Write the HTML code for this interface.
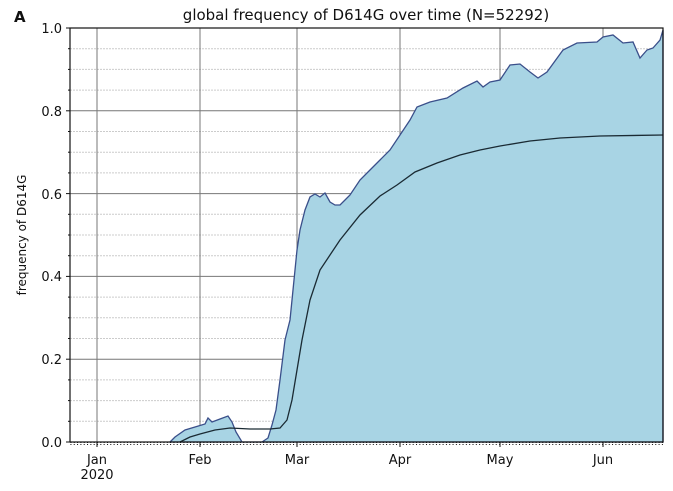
<!DOCTYPE html>
<html><head><style>
body{margin:0;background:#fff;width:673px;height:486px;overflow:hidden}
text{font-family:"DejaVu Sans","Liberation Sans",sans-serif;fill:#111}
</style></head><body>
<svg width="673" height="486" viewBox="0 0 673 486" xmlns="http://www.w3.org/2000/svg">
<defs><pattern id="mt" x="97" y="0" width="3.323" height="4" patternUnits="userSpaceOnUse"><rect x="0" y="0" width="1" height="3" fill="#111"/></pattern></defs>
<g stroke="#ccc" stroke-width="1" stroke-dasharray="2,1">
<line x1="70" x2="663" y1="48.7" y2="48.7"/><line x1="70" x2="663" y1="69.4" y2="69.4"/><line x1="70" x2="663" y1="90.1" y2="90.1"/>
<line x1="70" x2="663" y1="131.5" y2="131.5"/><line x1="70" x2="663" y1="152.2" y2="152.2"/><line x1="70" x2="663" y1="172.9" y2="172.9"/>
<line x1="70" x2="663" y1="214.3" y2="214.3"/><line x1="70" x2="663" y1="235" y2="235"/><line x1="70" x2="663" y1="255.7" y2="255.7"/>
<line x1="70" x2="663" y1="297.1" y2="297.1"/><line x1="70" x2="663" y1="317.8" y2="317.8"/><line x1="70" x2="663" y1="338.5" y2="338.5"/>
<line x1="70" x2="663" y1="379.9" y2="379.9"/><line x1="70" x2="663" y1="400.6" y2="400.6"/><line x1="70" x2="663" y1="421.3" y2="421.3"/>
</g>
<g stroke="#777" stroke-width="1">
<line x1="70" x2="663" y1="110.8" y2="110.8"/><line x1="70" x2="663" y1="193.6" y2="193.6"/><line x1="70" x2="663" y1="276.4" y2="276.4"/><line x1="70" x2="663" y1="359.2" y2="359.2"/>
<line x1="97" x2="97" y1="28" y2="442"/><line x1="200" x2="200" y1="28" y2="442"/><line x1="297" x2="297" y1="28" y2="442"/><line x1="400" x2="400" y1="28" y2="442"/><line x1="500" x2="500" y1="28" y2="442"/><line x1="603" x2="603" y1="28" y2="442"/>
</g>
<path d="M170,442 L175,437 L185,430 L195,427 L205,424 L208,418 L212,422 L220,419 L228,416 L232,422 L236,432 L242,442 L262,442 L268,438 L272,425 L276,410 L280,380 L285,340 L290,320 L293,290 L297,250 L300,230 L305,210 L310,197 L315,194 L320,197 L325,193 L330,202 L335,205 L340,205 L345,200 L350,195 L360,180 L370,170 L380,160 L390,150 L400,135 L410,120 L417,107 L430,102 L447,98 L463,88 L477,81 L483,87 L490,82 L500,80 L510,65 L520,64 L530,72 L538,78 L547,72 L563,50 L577,43 L597,42 L603,37 L613,35 L623,43 L633,42 L640,58 L647,50 L653,48 L660,40 L663,30 L663,442 Z" fill="#a8d4e4" stroke="#3a4f8a" stroke-width="1.3"/>
<path d="M180,442 L190,437 L200,434 L215,430 L230,428 L250,429 L270,429 L280,428 L287,420 L292,400 L297,370 L302,340 L310,300 L320,270 L340,240 L360,215 L380,196 L397,185 L415,172 L437,163 L460,155 L480,150 L500,146 L530,141 L560,138 L600,136 L663,135" fill="none" stroke="#1a2a33" stroke-width="1.3"/>
<rect x="70" y="28" width="593" height="414" fill="none" stroke="#111" stroke-width="1.2"/>
<rect x="70" y="442" width="593" height="3" fill="url(#mt)"/>
<g stroke="#111" stroke-width="1">
<line x1="66" x2="70" y1="28" y2="28"/><line x1="66" x2="70" y1="110.8" y2="110.8"/><line x1="66" x2="70" y1="193.6" y2="193.6"/><line x1="66" x2="70" y1="276.4" y2="276.4"/><line x1="66" x2="70" y1="359.2" y2="359.2"/><line x1="66" x2="70" y1="442" y2="442"/>
<line x1="68" x2="70" y1="48.7" y2="48.7"/><line x1="68" x2="70" y1="69.4" y2="69.4"/><line x1="68" x2="70" y1="90.1" y2="90.1"/><line x1="68" x2="70" y1="131.5" y2="131.5"/><line x1="68" x2="70" y1="152.2" y2="152.2"/><line x1="68" x2="70" y1="172.9" y2="172.9"/><line x1="68" x2="70" y1="214.3" y2="214.3"/><line x1="68" x2="70" y1="235" y2="235"/><line x1="68" x2="70" y1="255.7" y2="255.7"/><line x1="68" x2="70" y1="297.1" y2="297.1"/><line x1="68" x2="70" y1="317.8" y2="317.8"/><line x1="68" x2="70" y1="338.5" y2="338.5"/><line x1="68" x2="70" y1="379.9" y2="379.9"/><line x1="68" x2="70" y1="400.6" y2="400.6"/><line x1="68" x2="70" y1="421.3" y2="421.3"/>
<line x1="97" x2="97" y1="442" y2="447"/><line x1="200" x2="200" y1="442" y2="447"/><line x1="297" x2="297" y1="442" y2="447"/><line x1="400" x2="400" y1="442" y2="447"/><line x1="500" x2="500" y1="442" y2="447"/><line x1="603" x2="603" y1="442" y2="447"/>
</g>
<g font-size="13" text-anchor="end">
<text x="62" y="33">1.0</text><text x="62" y="116">0.8</text><text x="62" y="199">0.6</text><text x="62" y="281">0.4</text><text x="62" y="364">0.2</text><text x="62" y="447">0.0</text>
</g>
<g font-size="13" text-anchor="middle">
<text x="97" y="464">Jan</text><text x="97" y="479">2020</text><text x="200" y="464">Feb</text><text x="297" y="464">Mar</text><text x="400" y="464">Apr</text><text x="500" y="464">May</text><text x="603" y="464">Jun</text>
</g>
<text x="366" y="20" font-size="15" text-anchor="middle">global frequency of D614G over time (N=52292)</text>
<text x="14" y="22" font-size="15" font-weight="bold">A</text>
<text transform="translate(26,235) rotate(-90)" font-size="12" text-anchor="middle">frequency of D614G</text>
</svg>
</body></html>
